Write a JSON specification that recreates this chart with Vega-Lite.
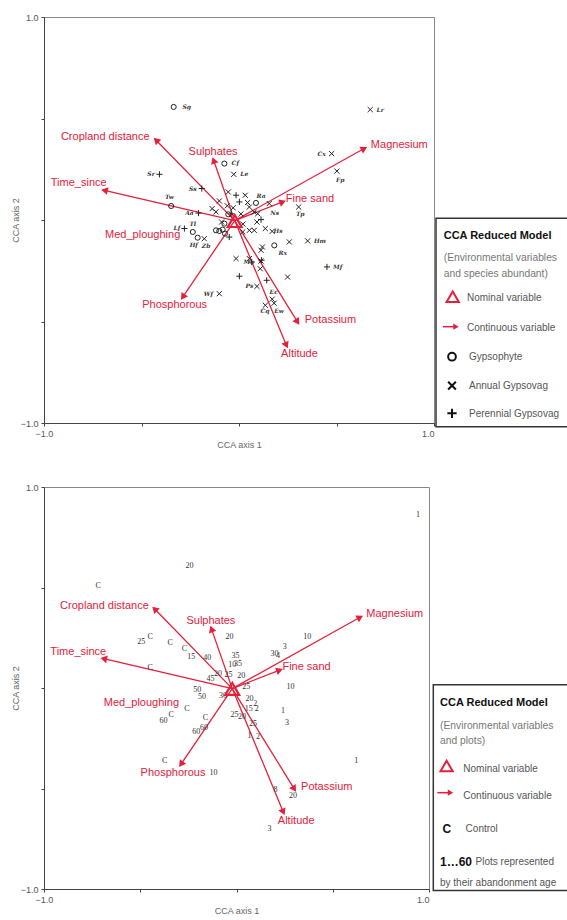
{
  "$schema": "https://vega.github.io/schema/vega-lite/v6.json",
  "padding": {"left": 10, "top": 12, "right": 0, "bottom": 0},
  "background": "white",
  "config": {
    "font": "Liberation Sans",
    "view": {"stroke": "#888", "strokeWidth": 1},
    "axis": {"grid": false, "tickSize": 3, "labelFontSize": 9, "labelColor": "#555", "titleFontSize": 9, "titleColor": "#666", "titleFontWeight": "normal", "domainColor": "#444", "tickColor": "#444", "labelFlush": false, "labelPadding": 3}
  },
  "datasets": {
    "vectors": [
      {"var": "Cropland distance", "x0": -0.022, "y0": -0.003, "x": -0.425, "y": 0.393, "lx": -0.686, "ly": 0.407},
      {"var": "Sulphates", "x0": -0.022, "y0": -0.003, "x": -0.13, "y": 0.294, "lx": -0.133, "ly": 0.333},
      {"var": "Magnesium", "x0": -0.022, "y0": -0.003, "x": 0.642, "y": 0.352, "lx": 0.822, "ly": 0.368},
      {"var": "Time_since", "x0": -0.022, "y0": -0.003, "x": -0.69, "y": 0.146, "lx": -0.822, "ly": 0.181},
      {"var": "Fine sand", "x0": -0.022, "y0": -0.003, "x": 0.224, "y": 0.089, "lx": 0.364, "ly": 0.102},
      {"var": "Phosphorous", "x0": -0.022, "y0": -0.003, "x": -0.288, "y": -0.379, "lx": -0.33, "ly": -0.421},
      {"var": "Potassium", "x0": -0.022, "y0": -0.003, "x": 0.3, "y": -0.502, "lx": 0.469, "ly": -0.494},
      {"var": "Altitude", "x0": -0.022, "y0": -0.003, "x": 0.243, "y": -0.617, "lx": 0.31, "ly": -0.662}
    ],
    "nominal": [
      {"var": "Med_ploughing", "x": -0.022, "y": -0.005, "lx": -0.494, "ly": -0.075}
    ],
    "speciesA": [
      {"sp": "Sg", "type": "Gypsophyte", "x": -0.335, "y": 0.557, "lx": -0.268, "ly": 0.557},
      {"sp": "Lr", "type": "Annual Gypsovag", "x": 0.673, "y": 0.544, "lx": 0.724, "ly": 0.544},
      {"sp": "Cx", "type": "Annual Gypsovag", "x": 0.475, "y": 0.327, "lx": 0.424, "ly": 0.327},
      {"sp": "Fp", "type": "Annual Gypsovag", "x": 0.502, "y": 0.241, "lx": 0.519, "ly": 0.199},
      {"sp": "Cf", "type": "Gypsophyte", "x": -0.075, "y": 0.278, "lx": -0.019, "ly": 0.281},
      {"sp": "Le", "type": "Annual Gypsovag", "x": -0.027, "y": 0.225, "lx": 0.027, "ly": 0.225},
      {"sp": "Sr", "type": "Perennial Gypsovag", "x": -0.408, "y": 0.225, "lx": -0.451, "ly": 0.225},
      {"sp": "Ss", "type": "Perennial Gypsovag", "x": -0.191, "y": 0.155, "lx": -0.237, "ly": 0.155},
      {"sp": "Tw", "type": "Gypsophyte", "x": -0.348, "y": 0.069, "lx": -0.357, "ly": 0.113},
      {"sp": "Ra", "type": "Gypsophyte", "x": 0.087, "y": 0.084, "lx": 0.113, "ly": 0.117},
      {"sp": "Tp", "type": "Annual Gypsovag", "x": 0.306, "y": 0.064, "lx": 0.314, "ly": 0.032},
      {"sp": "Aa", "type": "Perennial Gypsovag", "x": -0.208, "y": 0.034, "lx": -0.254, "ly": 0.034},
      {"sp": "Lf", "type": "Perennial Gypsovag", "x": -0.28, "y": -0.042, "lx": -0.318, "ly": -0.037},
      {"sp": "Tl", "type": "Gypsophyte", "x": -0.237, "y": -0.059, "lx": -0.237, "ly": -0.021},
      {"sp": "Hf", "type": "Gypsophyte", "x": -0.212, "y": -0.087, "lx": -0.232, "ly": -0.121},
      {"sp": "Zb", "type": "Annual Gypsovag", "x": -0.178, "y": -0.092, "lx": -0.169, "ly": -0.13},
      {"sp": "Hm", "type": "Annual Gypsovag", "x": 0.352, "y": -0.103, "lx": 0.415, "ly": -0.103},
      {"sp": "Rx", "type": "Gypsophyte", "x": 0.181, "y": -0.125, "lx": 0.224, "ly": -0.161},
      {"sp": "Mf", "type": "Perennial Gypsovag", "x": 0.451, "y": -0.231, "lx": 0.506, "ly": -0.231},
      {"sp": "Wf", "type": "Annual Gypsovag", "x": -0.101, "y": -0.363, "lx": -0.157, "ly": -0.363},
      {"sp": "Ec", "type": "Annual Gypsovag", "x": 0.17, "y": -0.39, "lx": 0.178, "ly": -0.356},
      {"sp": "Cq", "type": "Annual Gypsovag", "x": 0.135, "y": -0.42, "lx": 0.133, "ly": -0.45},
      {"sp": "Ew", "type": "Annual Gypsovag", "x": 0.18, "y": -0.41, "lx": 0.206, "ly": -0.448},
      {"sp": "Ns", "type": "Annual Gypsovag", "x": 0.155, "y": 0.081, "lx": 0.183, "ly": 0.035},
      {"sp": "Hs", "type": "Annual Gypsovag", "x": 0.17, "y": -0.056, "lx": 0.2, "ly": -0.056},
      {"sp": "Ma", "type": "Perennial Gypsovag", "x": 0.065, "y": -0.207, "lx": 0.05, "ly": -0.205},
      {"sp": "Ps", "type": "Annual Gypsovag", "x": 0.092, "y": -0.327, "lx": 0.053, "ly": -0.325},
      {"type": "Annual Gypsovag", "x": 0.249, "y": -0.281},
      {"type": "Annual Gypsovag", "x": 0.258, "y": -0.108},
      {"type": "Annual Gypsovag", "x": 0.135, "y": -0.042},
      {"type": "Annual Gypsovag", "x": -0.015, "y": -0.19},
      {"type": "Annual Gypsovag", "x": 0.109, "y": -0.24},
      {"type": "Annual Gypsovag", "x": 0.12, "y": -0.133},
      {"type": "Annual Gypsovag", "x": -0.101, "y": 0.094},
      {"type": "Annual Gypsovag", "x": -0.138, "y": 0.056},
      {"type": "Annual Gypsovag", "x": 0.032, "y": 0.122},
      {"type": "Annual Gypsovag", "x": -0.055, "y": 0.138},
      {"type": "Annual Gypsovag", "x": 0.053, "y": 0.064},
      {"type": "Annual Gypsovag", "x": 0.078, "y": 0.039},
      {"type": "Annual Gypsovag", "x": 0.092, "y": -0.01},
      {"type": "Annual Gypsovag", "x": 0.053, "y": -0.051},
      {"type": "Annual Gypsovag", "x": 0.019, "y": -0.059},
      {"type": "Annual Gypsovag", "x": 0.078, "y": -0.051},
      {"type": "Annual Gypsovag", "x": -0.118, "y": 0.04},
      {"type": "Annual Gypsovag", "x": -0.089, "y": -0.01},
      {"type": "Annual Gypsovag", "x": 0.044, "y": 0.086},
      {"type": "Annual Gypsovag", "x": 0.096, "y": 0.031},
      {"type": "Annual Gypsovag", "x": 0.053, "y": -0.19},
      {"type": "Annual Gypsovag", "x": 0.113, "y": -0.202},
      {"type": "Annual Gypsovag", "x": 0.113, "y": -0.149},
      {"type": "Annual Gypsovag", "x": -0.03, "y": 0.06},
      {"type": "Annual Gypsovag", "x": 0.01, "y": 0.03},
      {"type": "Annual Gypsovag", "x": -0.06, "y": 0.07},
      {"type": "Annual Gypsovag", "x": 0.02, "y": -0.02},
      {"type": "Perennial Gypsovag", "x": -0.015, "y": 0.122},
      {"type": "Perennial Gypsovag", "x": 0.002, "y": 0.089},
      {"type": "Perennial Gypsovag", "x": 0.113, "y": 0.002},
      {"type": "Perennial Gypsovag", "x": -0.05, "y": -0.084},
      {"type": "Perennial Gypsovag", "x": 0.002, "y": -0.277},
      {"type": "Perennial Gypsovag", "x": 0.142, "y": -0.297},
      {"type": "Perennial Gypsovag", "x": 0.116, "y": -0.198},
      {"type": "Perennial Gypsovag", "x": -0.04, "y": 0.03},
      {"type": "Gypsophyte", "x": -0.055, "y": 0.028},
      {"type": "Gypsophyte", "x": -0.118, "y": -0.051},
      {"type": "Gypsophyte", "x": -0.101, "y": -0.054},
      {"type": "Gypsophyte", "x": -0.084, "y": -0.047},
      {"type": "Gypsophyte", "x": -0.075, "y": -0.018},
      {"type": "Gypsophyte", "x": -0.072, "y": -0.067}
    ],
    "plotsB": [
      {"lab": "1", "x": 0.943, "y": 0.862},
      {"lab": "20", "x": -0.244, "y": 0.605},
      {"lab": "C", "x": -0.719, "y": 0.506},
      {"lab": "25", "x": -0.495, "y": 0.23},
      {"lab": "C", "x": -0.448, "y": 0.252},
      {"lab": "C", "x": -0.344, "y": 0.224},
      {"lab": "C", "x": -0.27, "y": 0.194},
      {"lab": "15", "x": -0.235, "y": 0.153},
      {"lab": "40", "x": -0.152, "y": 0.148},
      {"lab": "C", "x": -0.448, "y": 0.098},
      {"lab": "20", "x": -0.036, "y": 0.252},
      {"lab": "35", "x": -0.005, "y": 0.158},
      {"lab": "10", "x": -0.022, "y": 0.116},
      {"lab": "35", "x": 0.008, "y": 0.119},
      {"lab": "20", "x": 0.025, "y": 0.058},
      {"lab": "20", "x": -0.096, "y": 0.07},
      {"lab": "25", "x": -0.041, "y": 0.065},
      {"lab": "45", "x": -0.135, "y": 0.045},
      {"lab": "25", "x": 0.051, "y": 0.003},
      {"lab": "50", "x": -0.204, "y": -0.008},
      {"lab": "50", "x": -0.179, "y": -0.046},
      {"lab": "30", "x": -0.07, "y": -0.041},
      {"lab": "C", "x": -0.257, "y": -0.104},
      {"lab": "60", "x": -0.379, "y": -0.163},
      {"lab": "C", "x": -0.339, "y": -0.134},
      {"lab": "C", "x": -0.162, "y": -0.151},
      {"lab": "60", "x": -0.209, "y": -0.217},
      {"lab": "60", "x": -0.169, "y": -0.2},
      {"lab": "C", "x": -0.373, "y": -0.362},
      {"lab": "10", "x": -0.119, "y": -0.423},
      {"lab": "25", "x": -0.01, "y": -0.133},
      {"lab": "20", "x": 0.029, "y": -0.146},
      {"lab": "20", "x": 0.068, "y": -0.055},
      {"lab": "2", "x": 0.097, "y": -0.078},
      {"lab": "15", "x": 0.063, "y": -0.104},
      {"lab": "2", "x": 0.105, "y": -0.104},
      {"lab": "25", "x": 0.086, "y": -0.179},
      {"lab": "1", "x": 0.068, "y": -0.237},
      {"lab": "2", "x": 0.112, "y": -0.245},
      {"lab": "1", "x": 0.242, "y": -0.113},
      {"lab": "3", "x": 0.262, "y": -0.174},
      {"lab": "10", "x": 0.281, "y": 0.003},
      {"lab": "30", "x": 0.198, "y": 0.169},
      {"lab": "4", "x": 0.215, "y": 0.16},
      {"lab": "3", "x": 0.25, "y": 0.202},
      {"lab": "10", "x": 0.368, "y": 0.255},
      {"lab": "1", "x": 0.622, "y": -0.365},
      {"lab": "8", "x": 0.203, "y": -0.506},
      {"lab": "20", "x": 0.293, "y": -0.536},
      {"lab": "3", "x": 0.172, "y": -0.701}
    ],
    "legendA_box": [{"x1": 1, "x2": 134, "y1": 201.3, "y2": 409.7}],
    "legendA_text": [
      {"role": "title", "text": "CCA Reduced Model", "lx": 8.7, "ly": 218.7},
      {"role": "note", "text": "(Environmental variables", "lx": 8.7, "ly": 241.3},
      {"role": "note", "text": "and species abundant)", "lx": 8.7, "ly": 257.3},
      {"role": "item", "text": "Nominal variable", "lx": 32, "ly": 281},
      {"role": "item", "text": "Continuous variable", "lx": 32, "ly": 311},
      {"role": "item", "text": "Gypsophyte", "lx": 34, "ly": 340},
      {"role": "item", "text": "Annual Gypsovag", "lx": 34, "ly": 368.5},
      {"role": "item", "text": "Perennial Gypsovag", "lx": 34, "ly": 396.5}
    ],
    "legendA_nom": [{"lx": 17.7, "ly": 279.7}],
    "legendA_sym": [
      {"type": "Gypsophyte", "lx": 17, "ly": 339.7},
      {"type": "Annual Gypsovag", "lx": 17, "ly": 368.7},
      {"type": "Perennial Gypsovag", "lx": 17, "ly": 396.3}
    ],
    "legendA_arrow": [{"lx": 8, "lx2": 21, "ly": 309.7}],
    "legendB_box": [{"x1": 3.3, "x2": 139, "y1": 197.7, "y2": 403.4}],
    "legendB_text": [
      {"role": "title", "text": "CCA Reduced Model", "lx": 10, "ly": 215.7},
      {"role": "note", "text": "(Environmental variables", "lx": 10, "ly": 239},
      {"role": "note", "text": "and plots)", "lx": 10, "ly": 254},
      {"role": "item", "text": "Nominal variable", "lx": 33.3, "ly": 281.7},
      {"role": "item", "text": "Continuous variable", "lx": 33.3, "ly": 308.7},
      {"role": "key", "text": "C", "lx": 12.5, "ly": 341.7},
      {"role": "item", "text": "Control", "lx": 35.6, "ly": 341.7},
      {"role": "key", "text": "1…60", "lx": 10, "ly": 375},
      {"role": "item", "text": "Plots represented", "lx": 45.6, "ly": 375},
      {"role": "item", "text": "by their abandonment age", "lx": 10, "ly": 395.7}
    ],
    "legendB_nom": [{"lx": 16.6, "ly": 279}],
    "legendB_arrow": [{"lx": 7.3, "lx2": 20.5, "ly": 305.7}]
  },
  "spacing": 32,
  "vconcat": [
    {
      "spacing": 0,
      "hconcat": [
        {
          "width": 390,
          "height": 406,
          "layer": [
            {
              "mark": {"type": "rule", "color": "#c4c4c4", "strokeDash": [1.5, 1.5], "strokeWidth": 1},
              "encoding": {"x": {"datum": 0, "type": "quantitative", "scale": {"domain": [-1, 1], "nice": false, "zero": false},
                "axis": {"title": "CCA axis 1", "values": [-1, -0.5, 0, 0.5, 1], "labelExpr": "datum.value == -1 ? '−1.0' : (datum.value == 1 ? '1.0' : '')", "labelAlign": {"condition": {"test": "datum.value == 1", "value": "right"}, "value": "center"}, "titlePadding": 2}}}
            },
            {
              "mark": {"type": "rule", "color": "#c4c4c4", "strokeDash": [1.5, 1.5], "strokeWidth": 1},
              "encoding": {"y": {"datum": 0, "type": "quantitative", "scale": {"domain": [-1, 1], "nice": false, "zero": false},
                "axis": {"title": "CCA axis 2", "values": [-1, -0.5, 0, 0.5, 1], "labelExpr": "datum.value == -1 ? '−1.0' : (datum.value == 1 ? '1.0' : '')", "titlePadding": 0}}}
            },
            {
              "data": {"name": "vectors"},
              "mark": {"type": "rule", "color": "#e4203a", "strokeWidth": 1.3},
              "encoding": {"x": {"field": "x0", "type": "quantitative"}, "y": {"field": "y0", "type": "quantitative"}, "x2": {"field": "x"}, "y2": {"field": "y"}}
            },
            {
              "data": {"name": "vectors"},
              "transform": [{"calculate": "atan2(datum.x - datum.x0, datum.y - datum.y0) * 180 / PI", "as": "ang"}],
              "mark": {"type": "point", "shape": "triangle-up", "filled": true, "color": "#e4203a", "size": 60, "opacity": 1},
              "encoding": {"x": {"field": "x", "type": "quantitative"}, "y": {"field": "y", "type": "quantitative"}, "angle": {"field": "ang", "type": "quantitative", "scale": null}}
            },
            {
              "data": {"name": "vectors"},
              "mark": {"type": "text", "color": "#e4203a", "fontSize": 11},
              "encoding": {"x": {"field": "lx", "type": "quantitative"}, "y": {"field": "ly", "type": "quantitative"}, "text": {"field": "var"}}
            },
            {
              "data": {"name": "nominal"},
              "mark": {"type": "text", "color": "#e4203a", "fontSize": 11},
              "encoding": {"x": {"field": "lx", "type": "quantitative"}, "y": {"field": "ly", "type": "quantitative"}, "text": {"field": "var"}}
            },
            {
              "data": {"name": "speciesA"},
              "mark": {"type": "point", "filled": false, "color": "#222", "strokeWidth": 1, "size": 26, "opacity": 1},
              "encoding": {"x": {"field": "x", "type": "quantitative"}, "y": {"field": "y", "type": "quantitative"},
                "shape": {"field": "type", "type": "nominal", "legend": null, "scale": {"domain": ["Gypsophyte", "Annual Gypsovag", "Perennial Gypsovag"], "range": ["circle", "M-1,-1L1,1M-1,1L1,-1", "M-1.2,0L1.2,0M0,-1.2L0,1.2"]}}}
            },
            {
              "data": {"name": "speciesA"},
              "transform": [{"filter": "isValid(datum.sp)"}],
              "mark": {"type": "text", "font": "DejaVu Serif", "fontStyle": "italic", "fontWeight": "bold", "fontSize": 6, "color": "#333"},
              "encoding": {"x": {"field": "lx", "type": "quantitative"}, "y": {"field": "ly", "type": "quantitative"}, "text": {"field": "sp"}}
            },
            {
              "data": {"name": "nominal"},
              "mark": {"type": "point", "shape": "triangle-up", "filled": false, "stroke": "#e4203a", "strokeWidth": 2.2, "size": 190, "opacity": 1},
              "encoding": {"x": {"field": "x", "type": "quantitative"}, "y": {"field": "y", "type": "quantitative"}}
            },
            {
              "mark": {"type": "text", "text": "(a)", "fontSize": 17, "align": "left", "color": "#111"},
              "encoding": {"x": {"datum": -0.955, "type": "quantitative"}, "y": {"datum": 0.91, "type": "quantitative"}}
            }
          ]
        },
        {
          "width": 134,
          "height": 406,
          "view": {"stroke": null, "fill": "white"},
          "layer": [
            {
              "data": {"name": "legendA_box"},
              "mark": {"type": "rect", "fill": "white", "stroke": "#333", "strokeWidth": 1.5},
              "encoding": {"x": {"field": "x1", "type": "quantitative", "scale": {"domain": [0, 134], "nice": false, "zero": false}, "axis": null}, "x2": {"field": "x2"},
                "y": {"field": "y1", "type": "quantitative", "scale": {"domain": [0, 406], "reverse": true, "nice": false, "zero": false}, "axis": null}, "y2": {"field": "y2"}}
            },
            {
              "data": {"name": "legendA_text"},
              "transform": [{"filter": "datum.role == 'title'"}],
              "mark": {"type": "text", "align": "left", "fontSize": 11, "fontWeight": "bold", "color": "#111"},
              "encoding": {"x": {"field": "lx", "type": "quantitative"}, "y": {"field": "ly", "type": "quantitative"}, "text": {"field": "text"}}
            },
            {
              "data": {"name": "legendA_text"},
              "transform": [{"filter": "datum.role == 'note'"}],
              "mark": {"type": "text", "align": "left", "fontSize": 10.3, "color": "#777"},
              "encoding": {"x": {"field": "lx", "type": "quantitative"}, "y": {"field": "ly", "type": "quantitative"}, "text": {"field": "text"}}
            },
            {
              "data": {"name": "legendA_text"},
              "transform": [{"filter": "datum.role == 'item'"}],
              "mark": {"type": "text", "align": "left", "fontSize": 10, "color": "#555"},
              "encoding": {"x": {"field": "lx", "type": "quantitative"}, "y": {"field": "ly", "type": "quantitative"}, "text": {"field": "text"}}
            },
            {
              "data": {"name": "legendA_nom"},
              "mark": {"type": "point", "shape": "triangle-up", "filled": false, "stroke": "#e4203a", "strokeWidth": 2, "size": 150, "opacity": 1},
              "encoding": {"x": {"field": "lx", "type": "quantitative"}, "y": {"field": "ly", "type": "quantitative"}}
            },
            {
              "data": {"name": "legendA_arrow"},
              "mark": {"type": "rule", "color": "#e4203a", "strokeWidth": 1.5},
              "encoding": {"x": {"field": "lx", "type": "quantitative"}, "x2": {"field": "lx2"}, "y": {"field": "ly", "type": "quantitative"}}
            },
            {
              "data": {"name": "legendA_arrow"},
              "mark": {"type": "point", "shape": "triangle-right", "filled": true, "color": "#e4203a", "size": 40, "opacity": 1},
              "encoding": {"x": {"field": "lx2", "type": "quantitative"}, "y": {"field": "ly", "type": "quantitative"}}
            },
            {
              "data": {"name": "legendA_sym"},
              "mark": {"type": "point", "filled": false, "color": "#111", "strokeWidth": 2, "size": 60, "opacity": 1},
              "encoding": {"x": {"field": "lx", "type": "quantitative"}, "y": {"field": "ly", "type": "quantitative"},
                "shape": {"field": "type", "type": "nominal", "legend": null, "scale": {"domain": ["Gypsophyte", "Annual Gypsovag", "Perennial Gypsovag"], "range": ["circle", "M-1,-1L1,1M-1,1L1,-1", "M-1.2,0L1.2,0M0,-1.2L0,1.2"]}}}
            }
          ]
        }
      ]
    },
    {
      "spacing": 0,
      "hconcat": [
        {
          "width": 385,
          "height": 402,
          "layer": [
            {
              "mark": {"type": "rule", "color": "#c4c4c4", "strokeDash": [1.5, 1.5], "strokeWidth": 1},
              "encoding": {"x": {"datum": 0, "type": "quantitative", "scale": {"domain": [-1, 1], "nice": false, "zero": false},
                "axis": {"title": "CCA axis 1", "values": [-1, -0.5, 0, 0.5, 1], "labelExpr": "datum.value == -1 ? '−1.0' : (datum.value == 1 ? '1.0' : '')", "labelAlign": {"condition": {"test": "datum.value == 1", "value": "right"}, "value": "center"}, "titlePadding": 2}}}
            },
            {
              "mark": {"type": "rule", "color": "#c4c4c4", "strokeDash": [1.5, 1.5], "strokeWidth": 1},
              "encoding": {"y": {"datum": 0, "type": "quantitative", "scale": {"domain": [-1, 1], "nice": false, "zero": false},
                "axis": {"title": "CCA axis 2", "values": [-1, -0.5, 0, 0.5, 1], "labelExpr": "datum.value == -1 ? '−1.0' : (datum.value == 1 ? '1.0' : '')", "titlePadding": 0}}}
            },
            {
              "data": {"name": "vectors"},
              "mark": {"type": "rule", "color": "#e4203a", "strokeWidth": 1.3},
              "encoding": {"x": {"field": "x0", "type": "quantitative"}, "y": {"field": "y0", "type": "quantitative"}, "x2": {"field": "x"}, "y2": {"field": "y"}}
            },
            {
              "data": {"name": "vectors"},
              "transform": [{"calculate": "atan2(datum.x - datum.x0, datum.y - datum.y0) * 180 / PI", "as": "ang"}],
              "mark": {"type": "point", "shape": "triangle-up", "filled": true, "color": "#e4203a", "size": 60, "opacity": 1},
              "encoding": {"x": {"field": "x", "type": "quantitative"}, "y": {"field": "y", "type": "quantitative"}, "angle": {"field": "ang", "type": "quantitative", "scale": null}}
            },
            {
              "data": {"name": "vectors"},
              "mark": {"type": "text", "color": "#e4203a", "fontSize": 11},
              "encoding": {"x": {"field": "lx", "type": "quantitative"}, "y": {"field": "ly", "type": "quantitative"}, "text": {"field": "var"}}
            },
            {
              "data": {"name": "nominal"},
              "mark": {"type": "text", "color": "#e4203a", "fontSize": 11},
              "encoding": {"x": {"field": "lx", "type": "quantitative"}, "y": {"field": "ly", "type": "quantitative"}, "text": {"field": "var"}}
            },
            {
              "data": {"name": "plotsB"},
              "mark": {"type": "text", "font": "Liberation Serif", "fontSize": 8, "color": "#333"},
              "encoding": {"x": {"field": "x", "type": "quantitative"}, "y": {"field": "y", "type": "quantitative"}, "text": {"field": "lab"}}
            },
            {
              "data": {"name": "nominal"},
              "mark": {"type": "point", "shape": "triangle-up", "filled": false, "stroke": "#e4203a", "strokeWidth": 2.2, "size": 190, "opacity": 1},
              "encoding": {"x": {"field": "x", "type": "quantitative"}, "y": {"field": "y", "type": "quantitative"}}
            },
            {
              "mark": {"type": "text", "text": "(b)", "fontSize": 17, "align": "left", "color": "#111"},
              "encoding": {"x": {"datum": -0.955, "type": "quantitative"}, "y": {"datum": 0.894, "type": "quantitative"}}
            }
          ]
        },
        {
          "width": 139,
          "height": 402,
          "view": {"stroke": null, "fill": "white"},
          "layer": [
            {
              "data": {"name": "legendB_box"},
              "mark": {"type": "rect", "fill": "white", "stroke": "#333", "strokeWidth": 1.5},
              "encoding": {"x": {"field": "x1", "type": "quantitative", "scale": {"domain": [0, 139], "nice": false, "zero": false}, "axis": null}, "x2": {"field": "x2"},
                "y": {"field": "y1", "type": "quantitative", "scale": {"domain": [0, 402], "reverse": true, "nice": false, "zero": false}, "axis": null}, "y2": {"field": "y2"}}
            },
            {
              "data": {"name": "legendB_text"},
              "transform": [{"filter": "datum.role == 'title'"}],
              "mark": {"type": "text", "align": "left", "fontSize": 11, "fontWeight": "bold", "color": "#111"},
              "encoding": {"x": {"field": "lx", "type": "quantitative"}, "y": {"field": "ly", "type": "quantitative"}, "text": {"field": "text"}}
            },
            {
              "data": {"name": "legendB_text"},
              "transform": [{"filter": "datum.role == 'note'"}],
              "mark": {"type": "text", "align": "left", "fontSize": 10.3, "color": "#777"},
              "encoding": {"x": {"field": "lx", "type": "quantitative"}, "y": {"field": "ly", "type": "quantitative"}, "text": {"field": "text"}}
            },
            {
              "data": {"name": "legendB_text"},
              "transform": [{"filter": "datum.role == 'item'"}],
              "mark": {"type": "text", "align": "left", "fontSize": 10, "color": "#555"},
              "encoding": {"x": {"field": "lx", "type": "quantitative"}, "y": {"field": "ly", "type": "quantitative"}, "text": {"field": "text"}}
            },
            {
              "data": {"name": "legendB_text"},
              "transform": [{"filter": "datum.role == 'key'"}],
              "mark": {"type": "text", "align": "left", "fontSize": 12, "fontWeight": "bold", "color": "#111"},
              "encoding": {"x": {"field": "lx", "type": "quantitative"}, "y": {"field": "ly", "type": "quantitative"}, "text": {"field": "text"}}
            },
            {
              "data": {"name": "legendB_nom"},
              "mark": {"type": "point", "shape": "triangle-up", "filled": false, "stroke": "#e4203a", "strokeWidth": 2, "size": 150, "opacity": 1},
              "encoding": {"x": {"field": "lx", "type": "quantitative"}, "y": {"field": "ly", "type": "quantitative"}}
            },
            {
              "data": {"name": "legendB_arrow"},
              "mark": {"type": "rule", "color": "#e4203a", "strokeWidth": 1.5},
              "encoding": {"x": {"field": "lx", "type": "quantitative"}, "x2": {"field": "lx2"}, "y": {"field": "ly", "type": "quantitative"}}
            },
            {
              "data": {"name": "legendB_arrow"},
              "mark": {"type": "point", "shape": "triangle-right", "filled": true, "color": "#e4203a", "size": 40, "opacity": 1},
              "encoding": {"x": {"field": "lx2", "type": "quantitative"}, "y": {"field": "ly", "type": "quantitative"}}
            }
          ]
        }
      ]
    }
  ]
}
